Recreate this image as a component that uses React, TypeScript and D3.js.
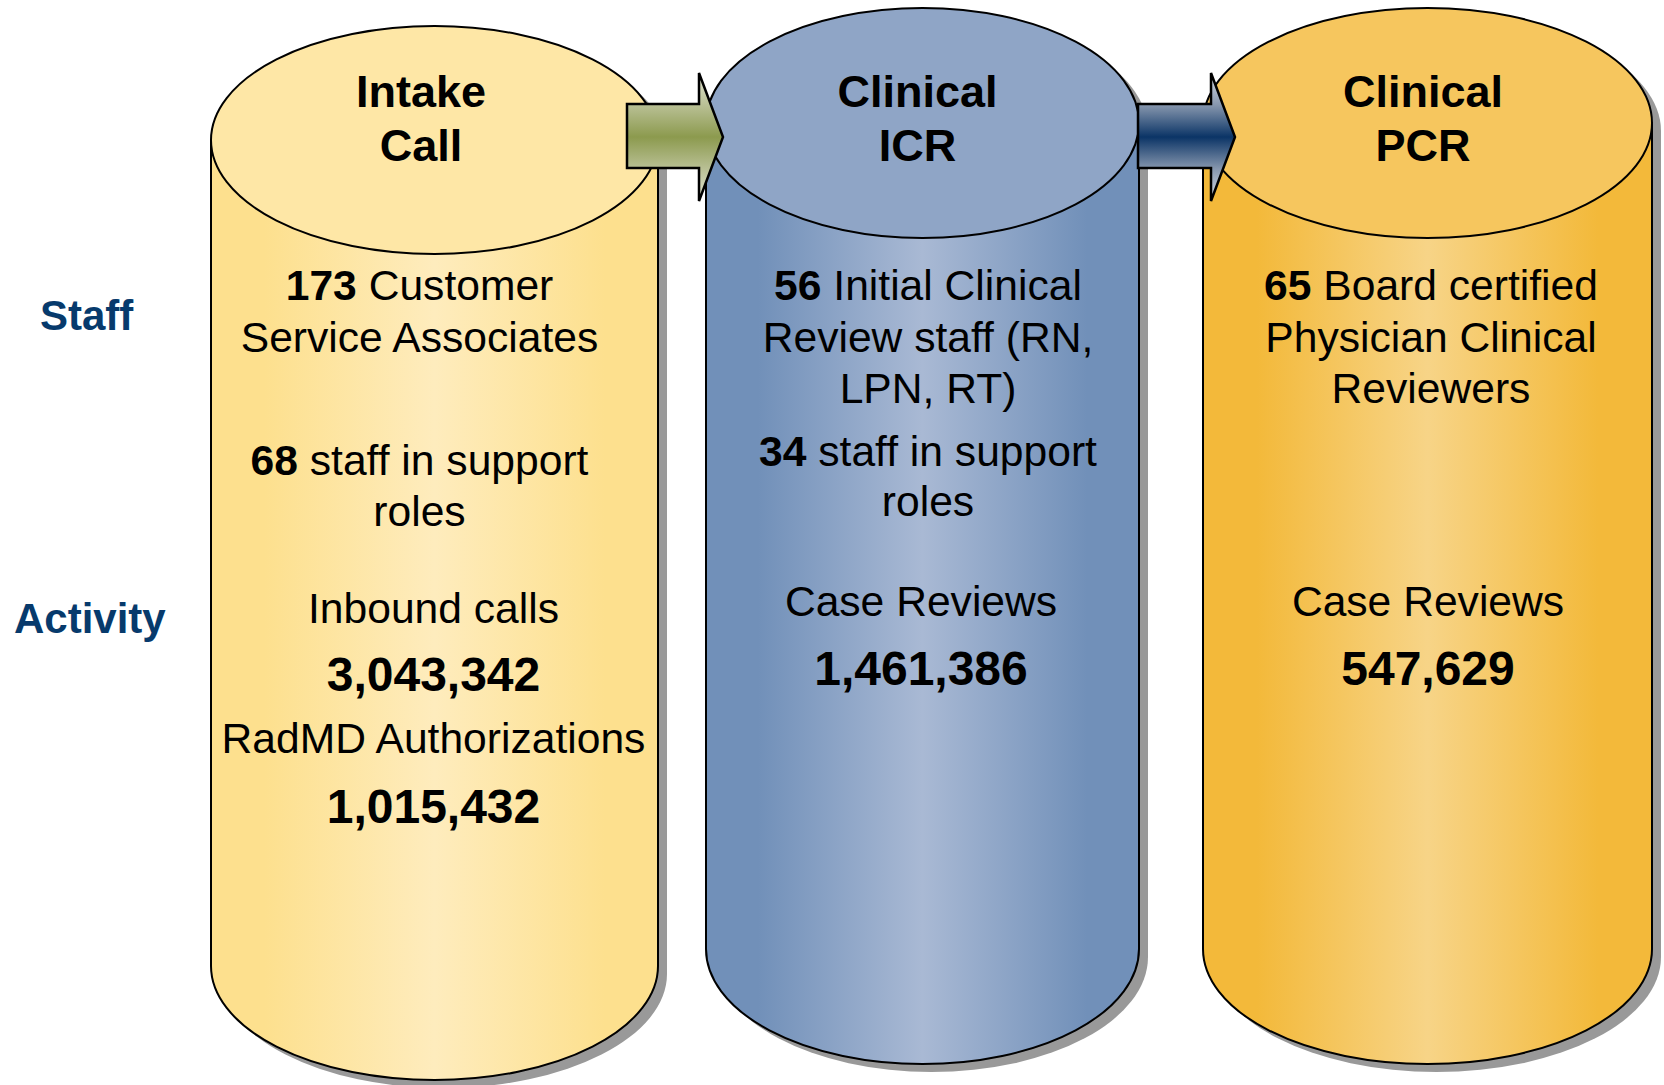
import React from "react";
import * as d3 from "d3";

// ---------- data ----------
const stageTitles: string[][] = [["Intake", "Call"], ["Clinical", "ICR"], ["Clinical", "PCR"]];
const staffCounts: number[] = [173, 56, 65];
const staffDescriptions: string[][] = [
  [" Customer", "Service Associates"],
  [" Initial Clinical", "Review staff (RN,", "LPN, RT)"],
  [" Board certified", "Physician Clinical", "Reviewers"],
];
const supportCounts: (number | null)[] = [68, 34, null];
const supportDescription: string[] = [" staff in support", "roles"];
const activityLabels: string[][] = [["Inbound calls", "RadMD Authorizations"], ["Case Reviews"], ["Case Reviews"]];
const activityValues: number[][] = [[3043342, 1015432], [1461386], [547629]];
const rowLabels: string[] = ["Staff", "Activity"];

// ---------- styling / layout ----------
const W = 1664;
const H = 1085;
const FONT = "'Liberation Sans', Arial, Helvetica, sans-serif";
const fmt = d3.format(",");
const BODY_FS = 42.6;

const cylinders = [
  { x0: 211, x1: 658, cyT: 140, cyB: 966, ry: 114, top: "#fee7a6", edge: "#fde08e", mid: "#feecbd" },
  { x0: 706, x1: 1139, cyT: 123, cyB: 949, ry: 115, top: "#8fa5c6", edge: "#7190b9", mid: "#a9b9d4" },
  { x0: 1203, x1: 1652, cyT: 123, cyB: 949, ry: 115, top: "#f6c65e", edge: "#f3b93a", mid: "#f7d487" },
];

const textLayout = [
  { staffX: 419.5, actX: 433.5, staffY: [300, 352], supY: [475, 526], actY: [[622.5, 691], [753, 822.5]] },
  { staffX: 928, actX: 921, staffY: [300, 352, 403], supY: [465.5, 515.5], actY: [[616, 684.5]] },
  { staffX: 1431, actX: 1428, staffY: [300, 352, 403], supY: [], actY: [[616, 684.5]] },
];
const titleX = [421, 917.5, 1423];
const titleY = [106.5, 160.5];

const arrows = [
  { x0: 627, xb: 699, tip: 723, y0: 104, y1: 168, hy0: 73, hy1: 201, light: "#e2e5d2", mid1: "#b9c095", dark: "#8c9a4e", id: "arrG" },
  { x0: 1138, xb: 1211, tip: 1235, y0: 104, y1: 168, hy0: 73, hy1: 201, light: "#d8dee7", mid1: "#8797ae", dark: "#0b3466", id: "arrB" },
];

function bodyPath(c: any) {
  const rx = (c.x1 - c.x0) / 2;
  return `M${c.x0},${c.cyT} L${c.x0},${c.cyB} A${rx},${c.ry} 0 0 0 ${c.x1},${c.cyB} L${c.x1},${c.cyT} Z`;
}
function silhouette(c: any) {
  const rx = (c.x1 - c.x0) / 2;
  return `M${c.x0},${c.cyT} A${rx},${c.ry} 0 0 1 ${c.x1},${c.cyT} L${c.x1},${c.cyB} A${rx},${c.ry} 0 0 1 ${c.x0},${c.cyB} Z`;
}
function arrowPath(a: any) {
  const cy = (a.hy0 + a.hy1) / 2;
  const p = d3.path();
  p.moveTo(a.x0, a.y0);
  p.lineTo(a.xb, a.y0);
  p.lineTo(a.xb, a.hy0);
  p.lineTo(a.tip, cy);
  p.lineTo(a.xb, a.hy1);
  p.lineTo(a.xb, a.y1);
  p.lineTo(a.x0, a.y1);
  p.closePath();
  return p.toString();
}

export default function App() {
  return (
    <svg width={W} height={H} style={{ position: "fixed", left: 0, top: 0, background: "#fff" }} fontFamily={FONT}>
      <defs>
        {cylinders.map((c, i) => (
          <linearGradient key={i} id={`body${i}`} x1="0" y1="0" x2="1" y2="0">
            <stop offset="0" stopColor={c.edge} />
            <stop offset="0.12" stopColor={c.edge} />
            <stop offset="0.5" stopColor={c.mid} />
            <stop offset="0.88" stopColor={c.edge} />
            <stop offset="1" stopColor={c.edge} />
          </linearGradient>
        ))}
        {arrows.map((a) => (
          <linearGradient key={a.id} id={a.id} gradientUnits="userSpaceOnUse" x1="0" y1={a.hy0} x2="0" y2={a.hy1}>
            <stop offset="0" stopColor={a.light} />
            <stop offset="0.25" stopColor={a.mid1} />
            <stop offset="0.5" stopColor={a.dark} />
            <stop offset="0.75" stopColor={a.mid1} />
            <stop offset="1" stopColor={a.light} />
          </linearGradient>
        ))}
      </defs>

      {/* row labels */}
      <text x={40} y={330} fontSize={42} fontWeight="bold" fill="#073a6c">{rowLabels[0]}</text>
      <text x={14} y={633} fontSize={42} fontWeight="bold" fill="#073a6c">{rowLabels[1]}</text>

      {cylinders.map((c, i) => {
        const rx = (c.x1 - c.x0) / 2;
        const cx = (c.x0 + c.x1) / 2;
        const L = textLayout[i];
        return (
          <g key={i}>
            <path d={silhouette(c)} transform="translate(9,8)" fill="#999" />
            <path d={bodyPath(c)} fill={`url(#body${i})`} stroke="#000" strokeWidth={2} />
            <ellipse cx={cx} cy={c.cyT} rx={rx} ry={c.ry} fill={c.top} stroke="#000" strokeWidth={2} />
            {stageTitles[i].map((t, k) => (
              <text key={k} x={titleX[i]} y={titleY[k]} fontSize={45} fontWeight="bold" textAnchor="middle" fill="#000">{t}</text>
            ))}
            {staffDescriptions[i].map((t, k) => (
              <text key={"s" + k} x={L.staffX} y={L.staffY[k]} fontSize={BODY_FS} textAnchor="middle" fill="#000">
                {k === 0 ? <tspan fontWeight="bold">{staffCounts[i]}</tspan> : null}
                {t}
              </text>
            ))}
            {supportCounts[i] !== null && supportDescription.map((t, k) => (
              <text key={"p" + k} x={L.staffX} y={L.supY[k]} fontSize={BODY_FS} textAnchor="middle" fill="#000">
                {k === 0 ? <tspan fontWeight="bold">{supportCounts[i]}</tspan> : null}
                {t}
              </text>
            ))}
            {activityLabels[i].map((t, k) => (
              <g key={"a" + k}>
                <text x={L.actX} y={L.actY[k][0]} fontSize={BODY_FS} textAnchor="middle" fill="#000">{t}</text>
                <text x={L.actX} y={L.actY[k][1]} fontSize={48} fontWeight="bold" textAnchor="middle" fill="#000">{fmt(activityValues[i][k])}</text>
              </g>
            ))}
          </g>
        );
      })}

      {arrows.map((a) => (
        <path key={a.id} d={arrowPath(a)} fill={`url(#${a.id})`} stroke="#000" strokeWidth={2.5} strokeLinejoin="miter" />
      ))}
    </svg>
  );
}
